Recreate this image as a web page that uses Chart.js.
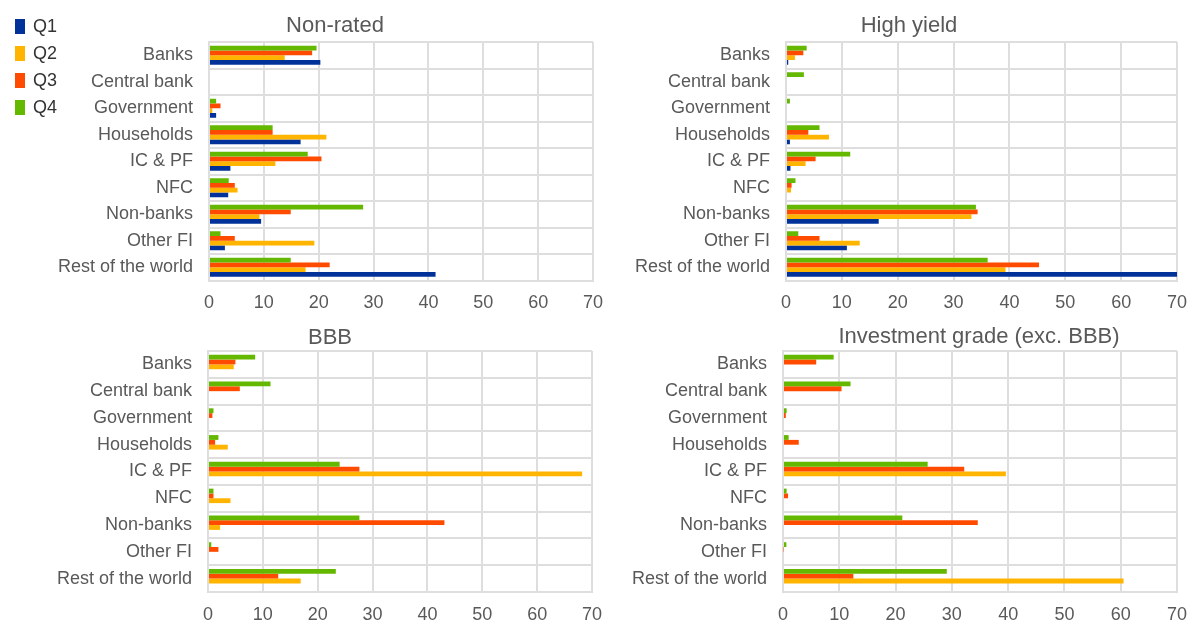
<!DOCTYPE html>
<html>
<head>
<meta charset="utf-8">
<script src="https://cdn.jsdelivr.net/npm/chart.js@4.4.1/dist/chart.umd.min.js"></script>
<style>
  body { margin: 0; background: #fff; width: 1191px; height: 624px; position: relative; overflow: hidden; font-family: "Liberation Sans", Arial, sans-serif; }
  canvas { position: absolute; }
  #legend { position: absolute; left: 15px; top: 13px; }
  #legend div { height: 27px; display: flex; align-items: center; font-size: 18px; color: #333; }
  #legend span.box { display: inline-block; width: 10px; height: 15px; margin-right: 8px; }
</style>
</head>
<body>
<canvas id="nonRated" width="623" height="330" style="left:0;top:0"></canvas>
<canvas id="highYield" width="607" height="330" style="left:600px;top:0"></canvas>
<canvas id="bbb" width="622" height="338" style="left:0;top:300px"></canvas>
<canvas id="invGrade" width="607" height="338" style="left:600px;top:300px"></canvas>
<div id="legend"></div>
<script>
// categorias y trimestres
const categories = ['Banks', 'Central bank', 'Government', 'Households', 'IC & PF', 'NFC', 'Non-banks', 'Other FI', 'Rest of the world'];
const quarters = ['Q1', 'Q2', 'Q3', 'Q4'];
const quarterColors = ['#003299', '#ffb400', '#ff4b00', '#65b800'];

// Non-rated
const nonRatedQ1 = [20.3, 0, 1.3, 16.7, 3.9, 3.5, 9.5, 2.9, 41.3];
const nonRatedQ2 = [13.8, 0, 0.6, 21.4, 12.1, 5.2, 9.2, 19.2, 17.6];
const nonRatedQ3 = [18.8, 0, 2.1, 11.6, 20.5, 4.7, 14.9, 4.7, 22.0];
const nonRatedQ4 = [19.6, 0, 1.3, 11.6, 18.0, 3.6, 28.1, 2.1, 14.9];

// High yield
const highYieldQ1 = [0.4, 0, 0, 0.7, 0.8, 0, 16.6, 10.9, 70];
const highYieldQ2 = [1.6, 0, 0, 7.7, 3.5, 0.9, 33.2, 13.2, 39.3];
const highYieldQ3 = [3.1, 0, 0, 4.0, 5.3, 1.0, 34.3, 6.0, 45.3];
const highYieldQ4 = [3.7, 3.2, 0.7, 6.0, 11.5, 1.7, 34.0, 2.2, 36.1];

// BBB
const bbbQ1 = [0, 0, 0, 0, 0, 0, 0, 0, 0];
const bbbQ2 = [4.7, 0, 0, 3.6, 68.2, 4.1, 2.2, 0, 16.9];
const bbbQ3 = [5.0, 5.8, 0.8, 1.3, 27.6, 1.0, 43.1, 1.9, 12.8];
const bbbQ4 = [8.6, 11.4, 1.0, 1.9, 24.0, 1.0, 27.6, 0.6, 23.3];

// Investment grade (exc. BBB)
const invGradeQ1 = [0, 0, 0, 0, 0, 0, 0, 0, 0];
const invGradeQ2 = [0, 0, 0, 0, 39.6, 0, 0, 0, 60.5];
const invGradeQ3 = [5.9, 10.4, 0.5, 2.8, 32.2, 0.9, 34.6, 0.1, 12.5];
const invGradeQ4 = [9.0, 12.0, 0.65, 1.0, 25.7, 0.65, 21.2, 0.6, 29.1];

const textColor = '#595959';
const gridColor = '#dedede';
const fontFamily = '"Liberation Sans", Arial, sans-serif';

// leyenda
const legend = document.getElementById('legend');
quarters.forEach((q, i) => {
  const row = document.createElement('div');
  row.innerHTML = '<span class="box" style="background:' + quarterColors[i] + '"></span>' + q;
  legend.appendChild(row);
});

// titulo de cada panel, colocado a mano
const panelTitle = {
  id: 'panelTitle',
  afterDraw(chart, args, opts) {
    const ctx = chart.ctx;
    ctx.save();
    ctx.font = '22px ' + fontFamily;
    ctx.fillStyle = textColor;
    ctx.textAlign = 'center';
    ctx.textBaseline = 'middle';
    ctx.fillText(opts.text, opts.x, opts.y);
    ctx.restore();
  }
};

function makeChart(id, title, series, geo) {
  // Q4 arriba, Q1 abajo
  const datasets = [3, 2, 1, 0].map(i => ({
    label: quarters[i],
    data: series[i],
    backgroundColor: quarterColors[i],
    borderWidth: 0
  }));
  new Chart(document.getElementById(id).getContext('2d'), {
    type: 'bar',
    data: { labels: categories, datasets },
    plugins: [panelTitle],
    options: {
      indexAxis: 'y',
      responsive: false,
      animation: false,
      layout: { padding: { left: 0, right: 30, top: geo.pt, bottom: geo.pb } },
      datasets: { bar: { categoryPercentage: 0.72, barPercentage: 1 } },
      plugins: {
        legend: { display: false },
        tooltip: { enabled: false },
        title: { display: false },
        panelTitle: { text: title, x: geo.tx, y: geo.ty }
      },
      scales: {
        x: {
          min: 0,
          max: 70,
          ticks: { stepSize: 10, color: textColor, font: { family: fontFamily, size: 18, lineHeight: 1 }, padding: 14, maxRotation: 0 },
          grid: { color: gridColor, lineWidth: 2, drawTicks: false },
          border: { color: gridColor, width: 2 }
        },
        y: {
          afterFit: (scale) => { scale.width = geo.yw; },
          ticks: { color: textColor, font: { family: fontFamily, size: 18 }, padding: 16, autoSkip: false },
          grid: { color: gridColor, lineWidth: 2, drawTicks: false, offset: true },
          border: { color: gridColor, width: 2 }
        }
      }
    }
  });
}

window.addEventListener('DOMContentLoaded', () => {
  makeChart('nonRated', 'Non-rated', [nonRatedQ1, nonRatedQ2, nonRatedQ3, nonRatedQ4],
    { pt: 42, pb: 3.5, yw: 209, tx: 335, ty: 26 });
  makeChart('highYield', 'High yield', [highYieldQ1, highYieldQ2, highYieldQ3, highYieldQ4],
    { pt: 42, pb: 3.5, yw: 186, tx: 309, ty: 26 });
  makeChart('bbb', 'BBB', [bbbQ1, bbbQ2, bbbQ3, bbbQ4],
    { pt: 51, pb: 0, yw: 208, tx: 330, ty: 38 });
  makeChart('invGrade', 'Investment grade (exc. BBB)', [invGradeQ1, invGradeQ2, invGradeQ3, invGradeQ4],
    { pt: 51, pb: 0, yw: 183, tx: 379, ty: 37 });
});
</script>
</body>
</html>
